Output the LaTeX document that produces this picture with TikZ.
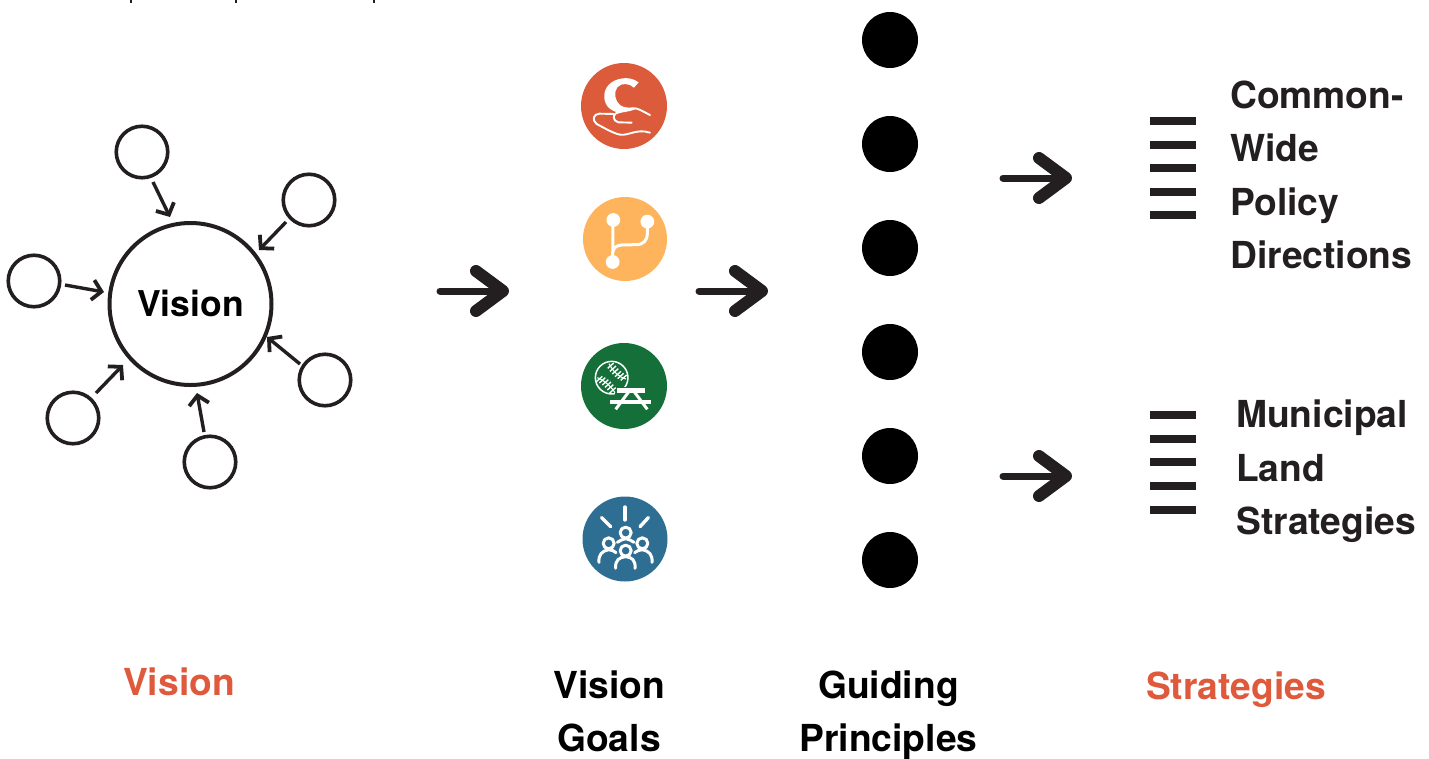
\documentclass[tikz,border=0pt]{standalone}
\usepackage{fontspec}
\setmainfont{TeX Gyre Heros}
\usetikzlibrary{arrows.meta}
\definecolor{ink}{HTML}{231F20}
\definecolor{accent}{HTML}{DF5A3C}
\definecolor{iconred}{HTML}{DC5B3B}
\definecolor{iconyellow}{HTML}{FDB45C}
\definecolor{icongreen}{HTML}{156F38}
\definecolor{iconblue}{HTML}{2E6E92}
\tikzset{
  x=1pt,y=-1pt,
  satellite/.style={circle,draw=ink,line width=3.6pt,minimum size=51.5pt,inner sep=0pt,outer sep=0pt},
  hub/.style={circle,draw=ink,line width=4pt,minimum size=162pt,inner sep=0pt,outer sep=0pt,font=\fontsize{35.5}{40}\selectfont\bfseries,text=black},
  feeder/.style={draw=ink,line width=3.4pt,-{Straight Barb[length=9pt,width=20pt,line width=3.8pt]}},
  bigarrow/.style={draw=ink,line width=7pt,line cap=round,-{Straight Barb[length=27pt,width=40pt,line width=12pt,round]}},
  principle/.style={circle,fill=black,minimum size=56pt,inner sep=0pt,outer sep=0pt},
  goal/.style={circle,minimum size=#1,inner sep=0pt,outer sep=0pt},
  bar/.style={fill=ink,minimum width=46pt,minimum height=8pt,inner sep=0pt,outer sep=0pt},
  lbl/.style={font=\fontsize{37.2}{53}\selectfont\bfseries,align=center,text=black,inner sep=0pt},
  side/.style={font=\fontsize{37.2}{53.5}\selectfont\bfseries,align=left,text=ink,inner sep=0pt,anchor=north west},
  thin white/.style={draw=white,line width=1.9pt,line cap=round,line join=round},
  icon white/.style={draw=white,line width=3pt,line cap=round,line join=round},
}
\begin{document}
\begin{tikzpicture}
\useasboundingbox (0,0) rectangle (1429,758);
% top stubs
\foreach \sx in {131,236,374}{\fill[ink] (\sx-1,0) rectangle (\sx+1,3);}
% vision hub
\node[hub] (hub) at (190.5,304) {\raisebox{2pt}{Vision}};
\node[satellite] (s1) at (142,152) {};
\node[satellite] (s2) at (309,200) {};
\node[satellite] (s3) at (34,281) {};
\node[satellite] (s4) at (325,380) {};
\node[satellite] (s5) at (73,418) {};
\node[satellite] (s6) at (210,462) {};
\coordinate (a1) at (153,182); \coordinate (b1) at (170,217);
\coordinate (a2) at (286,222); \coordinate (b2) at (259,250);
\coordinate (a3) at (65,285);  \coordinate (b3) at (104,292);
\coordinate (a4) at (300,364); \coordinate (b4) at (267,337);
\coordinate (a5) at (96,393);  \coordinate (b5) at (123,365);
\coordinate (a6) at (204,432); \coordinate (b6) at (197,393);
\foreach \i in {1,...,6}{\draw[feeder] (a\i) -- (b\i);}
% big arrows
\coordinate (c1) at (440,291); \coordinate (d1) at (509,291);
\coordinate (c2) at (699,291); \coordinate (d2) at (768,291);
\coordinate (c3) at (1003,178); \coordinate (d3) at (1072,178);
\coordinate (c4) at (1003,476); \coordinate (d4) at (1072,476);
\foreach \i in {1,...,4}{\draw[bigarrow] (c\i) -- (d\i);}
% goals
\node[goal=86pt,fill=iconred] (g1) at (624,106) {};
\node[goal=84pt,fill=iconyellow] (g2) at (625,239) {};
\node[goal=86pt,fill=icongreen] (g3) at (624,386) {};
\node[goal=85pt,fill=iconblue] (g4) at (625,539) {};
% icon 1: C in hand
\begin{scope}[shift={(560,50)},x=0.3333pt,y=-0.3333pt]
\fill[white] (236,97) .. controls (220,86) and (205,83) .. (188,85)
  .. controls (150,90) and (130,115) .. (133,145)
  .. controls (136,170) and (155,186) .. (178,187)
  .. controls (195,186) and (212,180) .. (224,171)
  .. controls (210,174) and (192,174) .. (180,165)
  .. controls (165,152) and (160,128) .. (172,112)
  .. controls (185,97) and (208,100) .. (222,113) -- cycle;
\draw[thin white] (270,195) .. controls (250,185) and (240,178) .. (226,175)
  .. controls (205,184) and (185,182) .. (168,190)
  .. controls (158,196) and (158,212) .. (175,217) -- (215,218);
\draw[thin white] (162,192) -- (118,191) .. controls (100,192) and (95,210) .. (110,222)
  .. controls (135,235) and (160,250) .. (180,254)
  .. controls (205,258) and (230,235) .. (270,248);
\end{scope}
% icon 2: branch
\begin{scope}[shift={(560,50)},x=0.3333pt,y=-0.3333pt]
\fill[white] (160,510) circle (6.9pt) (262,515) circle (6.9pt) (158,636) circle (6.9pt);
\draw[icon white] (159,510) -- (158,636);
\draw[icon white] (262,515) -- (262,550) .. controls (262,572) and (250,584) .. (228,584)
  -- (185,585) .. controls (168,586) and (159,595) .. (158,610);
\end{scope}
% icon 3: ball and picnic table
\begin{scope}[shift={(560,330)},x=0.3333pt,y=-0.3333pt]
\draw[white,line width=1.5pt] (155,143) circle (16.3pt);
\fill[icongreen] (165,170) rectangle (262,200);
\draw[white,line width=1.1pt] (147,101) .. controls (160,125) and (175,140) .. (198,147);
\draw[white,line width=1.1pt] (112,143) .. controls (130,150) and (150,165) .. (165,188);
\foreach \tx/\ty in {152/107,159/116,166/124,174/132,182/138,191/143}{
  \draw[white,line width=1.4pt] (\tx-9,\ty+8) -- (\tx+9,\ty-8);}
\foreach \tx/\ty in {118/147,127/151,136/157,144/164,151/172,158/181}{
  \draw[white,line width=1.4pt] (\tx-9,\ty+8) -- (\tx+9,\ty-8);}
\fill[white] (172,175) rectangle (255,188);
\fill[white] (150,210) rectangle (272,221);
\draw[white,line width=3pt] (205,187) -- (167,238);
\draw[white,line width=3pt] (224,187) -- (262,238);
\end{scope}
% icon 4: people
\begin{scope}[shift={(560,330)},x=0.3333pt,y=-0.3333pt]
\draw[icon white,line width=3.4pt] (195,531) -- (195,570);
\draw[icon white,line width=3.4pt] (125,563) -- (152,590);
\draw[icon white,line width=3.4pt] (265,563) -- (240,590);
\draw[icon white] (197,608) circle (5.5pt) (146,640) circle (5.5pt) (247,640) circle (5.5pt) (197,662) circle (5.5pt);
\draw[icon white] (167,715) .. controls (165,690) and (178,682) .. (197,680)
  .. controls (216,682) and (227,690) .. (225,715);
\draw[icon white] (117,697) .. controls (115,675) and (125,663) .. (146,659)
  .. controls (155,660) and (163,663) .. (168,668);
\draw[icon white] (276,697) .. controls (278,675) and (268,663) .. (247,659)
  .. controls (238,660) and (230,663) .. (224,668);
\draw[icon white] (172,637) .. controls (180,632) and (188,627) .. (197,626)
  .. controls (206,627) and (214,632) .. (222,637);
\end{scope}
% principles
\foreach \n/\py in {1/40,2/144,3/248,4/352,5/456,6/560}{
  \node[principle] (p\n) at (890,\py) {};}
% bars
\foreach \n/\py in {1/121,2/145,3/168,4/192,5/215}{
  \node[bar] (u\n) at (1173,\py) {};}
\foreach \n/\py in {1/415,2/439,3/462,4/486,5/510}{
  \node[bar] (v\n) at (1173,\py) {};}
% side texts
\node[side] (t1) at (1230,80.7) {Common-\\Wide\\Policy\\Directions};
\node[side] (t2) at (1236,400) {Municipal\\Land\\Strategies};
% captions
\node[lbl,text=accent] (l1) at (179,682) {Vision};
\node[lbl,anchor=north] (l2) at (609,671) {Vision\\Goals};
\node[lbl,anchor=north] (l3) at (888.5,671) {Guiding\\Principles};
\node[lbl,text=accent] (l4) at (1236,690) {Strategies};
\end{tikzpicture}
\end{document}
